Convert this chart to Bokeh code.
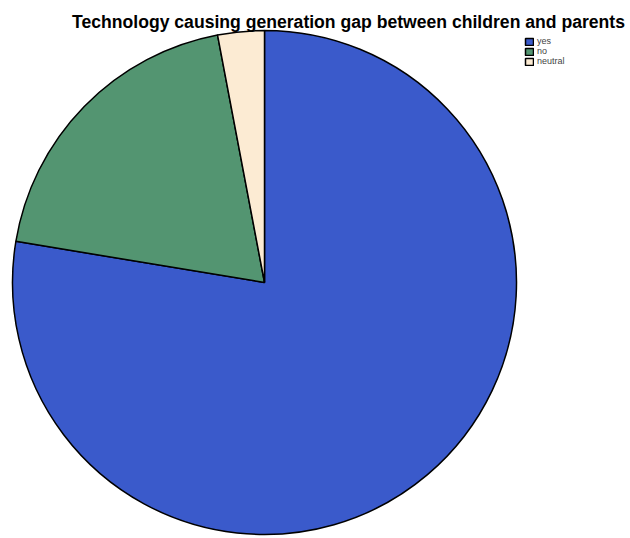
import math
from bokeh.plotting import figure
from bokeh.models import ColumnDataSource, Range1d, Legend, LegendItem, Label
from bokeh.embed import file_html
from bokeh.resources import INLINE

# Survey responses
categories = ["yes", "no", "neutral"]
counts = [52, 13, 2]
colors = ["#3a5acb", "#539571", "#fcebd3"]

total = sum(counts)
starts, ends = [], []
acc = 0.0
for c in counts:
    # slices run clockwise from twelve o'clock
    starts.append(math.pi / 2 - 2 * math.pi * acc / total)
    acc += c
    ends.append(math.pi / 2 - 2 * math.pi * acc / total)

src = ColumnDataSource(dict(cat=categories, count=counts, color=colors,
                            start=starts, end=ends))

W, H = 630, 538
p = figure(width=W, height=H, output_backend="svg", toolbar_location=None,
           x_range=Range1d(0, W), y_range=Range1d(0, H), min_border=0)
p.axis.visible = False
p.grid.visible = False
p.outline_line_color = None
p.background_fill_color = "white"
p.border_fill_color = "white"

r = p.wedge(x=264, y=H - 282, radius=252, radius_units="screen",
            start_angle="start", end_angle="end", direction="clock",
            fill_color="color", line_color="black", line_width=1.5,
            source=src)

p.add_layout(Label(x=348, y=H - 21, text="Technology causing generation gap between children and parents",
                   text_align="center", text_baseline="alphabetic",
                   text_font="Liberation Sans", text_font_style="bold",
                   text_font_size="17.6px", text_color="#000000"))

items = [LegendItem(label=c, renderers=[r], index=i) for i, c in enumerate(categories)]
leg = Legend(items=items, location=(524, H - 66), orientation="vertical",
             glyph_width=10, glyph_height=9, label_height=9, label_standoff=3,
             spacing=0, padding=0, margin=0,
             label_text_font="Liberation Sans", label_text_font_size="9px",
             background_fill_alpha=0, border_line_color=None)
p.add_layout(leg, "center")

open("out.html", "w").write(file_html(p, INLINE))
